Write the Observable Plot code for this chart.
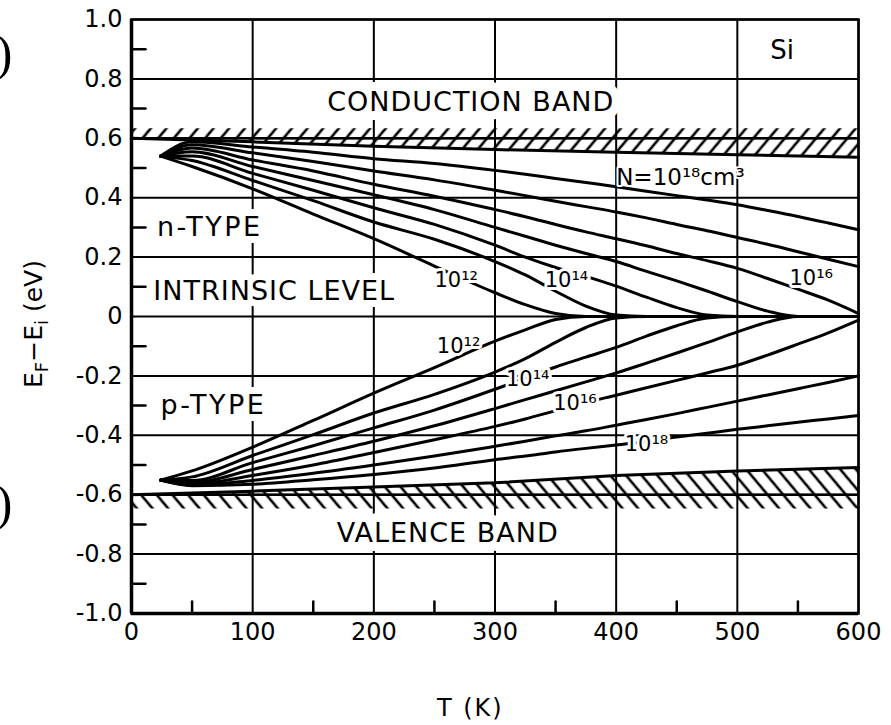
<!DOCTYPE html>
<html><head><meta charset="utf-8">
<script src="https://cdn.jsdelivr.net/npm/d3@7"></script>
<script src="https://cdn.jsdelivr.net/npm/@observablehq/plot@0.6"></script>
<style>html,body{margin:0;padding:0;background:#fff}svg{display:block}</style>
</head><body><div id="chart"></div>
<script>
// Temperature grid (K)
const T = [24,50,100,150,200,250,300,325,350,375,400,425,450,475,500,525,550,575,600];
// n-type E_F - E_i (eV), N = 1e12 ... 1e18 cm^-3
const n12 = [0.54,0.505,0.43,0.345,0.262,0.17,0.08,0.04,0.01,0,0,0,0,0,0,0,0,0,0];
const n13 = [0.54,0.525,0.458,0.39,0.318,0.26,0.185,0.14,0.085,0.035,0.005,0,0,0,0,0,0,0,0];
const n14 = [0.54,0.54,0.482,0.425,0.366,0.31,0.24,0.2,0.165,0.135,0.102,0.065,0.03,0.005,0,0,0,0,0];
const n15 = [0.54,0.555,0.505,0.458,0.41,0.36,0.3,0.27,0.24,0.212,0.185,0.152,0.12,0.086,0.05,0.018,0,0,0];
const n16 = [0.54,0.567,0.527,0.49,0.445,0.405,0.36,0.336,0.31,0.285,0.262,0.238,0.212,0.188,0.162,0.128,0.092,0.055,0.01];
const n17 = [0.54,0.578,0.551,0.522,0.49,0.46,0.425,0.407,0.388,0.37,0.352,0.332,0.31,0.289,0.266,0.243,0.218,0.193,0.168];
const n18 = [0.54,0.588,0.571,0.553,0.531,0.515,0.492,0.479,0.465,0.451,0.437,0.422,0.407,0.392,0.376,0.357,0.337,0.315,0.292];
// p-type
const p12 = [-0.551,-0.52,-0.44,-0.35,-0.258,-0.172,-0.083,-0.045,-0.01,0,0,0,0,0,0,0,0,0,0];
const p13 = [-0.551,-0.54,-0.468,-0.398,-0.325,-0.262,-0.187,-0.142,-0.087,-0.037,-0.005,0,0,0,0,0,0,0,0];
const p14 = [-0.551,-0.552,-0.492,-0.435,-0.375,-0.315,-0.245,-0.208,-0.17,-0.137,-0.104,-0.066,-0.031,-0.005,0,0,0,0,0];
const p15 = [-0.551,-0.56,-0.515,-0.468,-0.42,-0.368,-0.31,-0.28,-0.25,-0.22,-0.19,-0.157,-0.123,-0.088,-0.052,-0.019,0,0,0];
const p16 = [-0.551,-0.565,-0.535,-0.5,-0.458,-0.415,-0.37,-0.345,-0.317,-0.29,-0.265,-0.24,-0.215,-0.19,-0.164,-0.13,-0.093,-0.055,-0.012];
const p17 = [-0.551,-0.568,-0.552,-0.528,-0.5,-0.47,-0.437,-0.42,-0.402,-0.385,-0.366,-0.347,-0.327,-0.306,-0.285,-0.264,-0.243,-0.222,-0.2];
const p18 = [-0.551,-0.57,-0.565,-0.55,-0.532,-0.51,-0.482,-0.47,-0.456,-0.444,-0.433,-0.421,-0.406,-0.393,-0.38,-0.368,-0.356,-0.345,-0.333];

// Band edges
const bandT = [0,100,200,300,400,500,600];
const Ec = [0.600,0.588,0.573,0.562,0.553,0.545,0.536];
const Ev = [-0.600,-0.588,-0.574,-0.56,-0.535,-0.52,-0.508];
const hatchTop = 0.632, hatchBottom = -0.648;

// Ticks
const xTicks = [0,100,200,300,400,500,600];
const yTicks = [-1,-0.8,-0.6,-0.4,-0.2,0,0.2,0.4,0.6,0.8,1];
const xMinor = [50,150,250,350,450,550];
const yMinor = [-0.9,-0.7,-0.5,-0.3,-0.1,0.1,0.3,0.5,0.7,0.9];

// Labels
const bigLabels = [
  {text: "CONDUCTION BAND", T: 280, E: 0.72},
  {text: "VALENCE BAND", T: 261, E: -0.729}
];
const sideLabels = [
  {text: "n-TYPE", T: 21, E: 0.3},
  {text: "INTRINSIC LEVEL", T: 18, E: 0.085},
  {text: "p-TYPE", T: 24, E: -0.3}
];
const nLabels = [
  {text: "10¹²", T: 268, E: 0.123},
  {text: "10¹⁴", T: 359, E: 0.123},
  {text: "10¹⁶", T: 561, E: 0.129},
  {text: "10¹²", T: 270, E: -0.1},
  {text: "10¹⁴", T: 327, E: -0.21},
  {text: "10¹⁶", T: 366, E: -0.293},
  {text: "10¹⁸", T: 425, E: -0.429}
];
const nTopLabel = [{text: "N=10¹⁸cm³", T: 453, E: 0.466}];
const siLabel = [{text: "Si", T: 537, E: 0.895}];

const series = {n12,n13,n14,n15,n16,n17,n18,p12,p13,p14,p15,p16,p17,p18};
const rows = [];
for (const [key, arr] of Object.entries(series)) T.forEach((t, i) => rows.push({key, T: t, E: arr[i]}));
const bands = bandT.map((t, i) => ({T: t, Ec: Ec[i], Ev: Ev[i]}));

const FONT = "DejaVu Sans";
const tickShape = {draw(ctx, l) { ctx.moveTo(0, 0); ctx.lineTo(0, -l); }};
const fmt = d => d === 0 ? "0" : d.toFixed(1);

const chart = Plot.plot({
  width: 891, height: 725,
  marginLeft: 131, marginRight: 33, marginTop: 19, marginBottom: 112,
  x: {domain: [0, 600]},
  y: {domain: [-1, 1]},
  style: {fontFamily: FONT, fontSize: "24px", color: "#000", background: "#fff"},
  marks: [
    Plot.ruleX(xTicks, {stroke: "#000", strokeWidth: 2}),
    Plot.ruleY(yTicks, {stroke: "#000", strokeWidth: 2}),
    Plot.areaY(bands, {x: "T", y1: "Ec", y2: () => hatchTop, fill: "url(#hatchC)"}),
    Plot.areaY(bands, {x: "T", y1: "Ev", y2: () => hatchBottom, fill: "url(#hatchV)"}),
    Plot.ruleY([0.6, -0.6], {stroke: "#000", strokeWidth: 2.5}),
    Plot.line(bands, {x: "T", y: "Ec", stroke: "#000", strokeWidth: 3}),
    Plot.line(bands, {x: "T", y: "Ev", stroke: "#000", strokeWidth: 3}),
    Plot.line(rows, {x: "T", y: "E", z: "key", stroke: "#000", strokeWidth: 3, curve: "monotone-x"}),
    Plot.text(bigLabels, {x: "T", y: "E", text: "text", fontSize: 27, fill: "#000", stroke: "#fff", strokeWidth: 18, paintOrder: "stroke"}),
    Plot.text(sideLabels, {x: "T", y: "E", text: "text", fontSize: 27, textAnchor: "start", fill: "#000", stroke: "#fff", strokeWidth: 14, paintOrder: "stroke"}),
    Plot.text(nLabels, {x: "T", y: "E", text: "text", fontSize: 21, fill: "#000", stroke: "#fff", strokeWidth: 6, paintOrder: "stroke"}),
    Plot.text(nTopLabel, {x: "T", y: "E", text: "text", fontSize: 23, fill: "#000", stroke: "#fff", strokeWidth: 4, paintOrder: "stroke"}),
    Plot.text(siLabel, {x: "T", y: "E", text: "text", fontSize: 26, fill: "#000"}),
    Plot.vector(yMinor, {x: () => 0, y: d => d, length: 14, rotate: 90, anchor: "start", shape: tickShape, stroke: "#000", strokeWidth: 2.5}),
    Plot.vector(xMinor, {x: d => d, y: () => -1, length: 12, rotate: 0, anchor: "start", shape: tickShape, stroke: "#000", strokeWidth: 2.5}),
    Plot.frame({stroke: "#000", strokeWidth: 2.5}),
    Plot.ruleX([0], {stroke: "#000", strokeWidth: 3.5}),
    Plot.ruleY([-1], {stroke: "#000", strokeWidth: 3.5}),
    Plot.axisX(xTicks, {tickSize: 0, tickPadding: 9, fontSize: 24, label: null}),
    Plot.axisY(yTicks, {tickSize: 0, tickPadding: 9, fontSize: 24, tickFormat: fmt, label: null})
  ]
});

const svg = d3.select(chart);
const defs = svg.insert("defs", ":first-child");
defs.append("pattern").attr("id", "hatchC").attr("patternUnits", "userSpaceOnUse")
  .attr("width", 12).attr("height", 12).attr("patternTransform", "rotate(40)")
  .append("line").attr("x1", 6).attr("y1", -1).attr("x2", 6).attr("y2", 13)
  .attr("stroke", "#000").attr("stroke-width", 2.6);
defs.append("pattern").attr("id", "hatchV").attr("patternUnits", "userSpaceOnUse")
  .attr("width", 12).attr("height", 12).attr("patternTransform", "rotate(-40)")
  .append("line").attr("x1", 6).attr("y1", -1).attr("x2", 6).attr("y2", 13)
  .attr("stroke", "#000").attr("stroke-width", 2.6);

// letter spacing for the lettered labels
svg.selectAll("text").each(function() {
  const t = this.textContent;
  if (["CONDUCTION BAND", "VALENCE BAND", "n-TYPE", "p-TYPE", "INTRINSIC LEVEL"].includes(t)) {
    d3.select(this).attr("letter-spacing", t.length > 8 ? 1 : 2.5);
  }
});

const xs = chart.scale("x"), ys = chart.scale("y");
// x-axis title
svg.append("text").attr("x", xs.apply(280)).attr("y", 716).attr("text-anchor", "middle")
  .attr("font-family", FONT).attr("font-size", 24).attr("letter-spacing", 2).text("T (K)");
// y-axis title with subscripts
const yl = svg.append("text").attr("transform", `translate(42,${ys.apply(0) + 8}) rotate(-90)`)
  .attr("text-anchor", "middle").attr("font-family", FONT).attr("font-size", 25);
yl.append("tspan").text("E");
yl.append("tspan").attr("font-size", 18).attr("dy", 6).text("F");
yl.append("tspan").attr("dy", -6).text("−E");
yl.append("tspan").attr("font-size", 18).attr("dy", 6).text("i");
yl.append("tspan").attr("dy", -6).text(" (eV)");
// stray brackets from the neighbouring scan
svg.append("text").attr("x", 4).attr("y", 70).attr("font-family", "Liberation Serif").attr("font-size", 50).text(")");
svg.append("text").attr("x", 4).attr("y", 520).attr("font-family", "Liberation Serif").attr("font-size", 50).text(")");

document.getElementById("chart").appendChild(chart);
</script>
</body></html>
